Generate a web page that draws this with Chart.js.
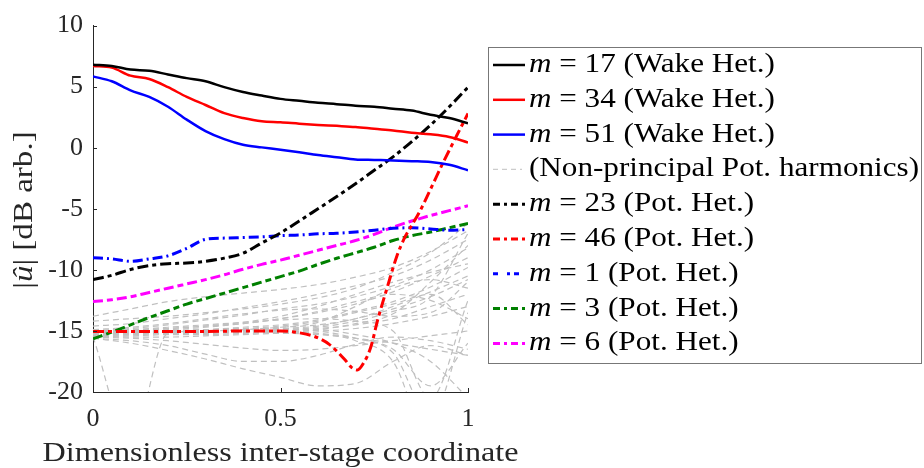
<!DOCTYPE html>
<html>
<head>
<meta charset="utf-8">
<script src="https://cdn.jsdelivr.net/npm/chart.js@4.4.0/dist/chart.umd.min.js"></script>
<style>
  html, body { margin: 0; padding: 0; background: #fff; }
</style>
</head>
<body>
<canvas id="myChart" width="924" height="468"></canvas>
<script>
// x positions (dimensionless inter-stage coordinate)
const xGrid = [0, 0.05, 0.1, 0.15, 0.2, 0.25, 0.3, 0.35, 0.4, 0.45, 0.5,
               0.55, 0.6, 0.65, 0.7, 0.75, 0.8, 0.85, 0.9, 0.95, 1];
const xGray = [0, 0.1, 0.2, 0.3, 0.4, 0.5, 0.6, 0.7, 0.8, 0.9, 1];
const x46 = [0, 0.1, 0.2, 0.3, 0.4, 0.5, 0.55, 0.59, 0.63, 0.67, 0.69, 0.705,
             0.72, 0.74, 0.76, 0.785, 0.81, 0.832, 0.845, 0.87, 0.9, 0.93, 0.97, 1];

// wake heterogeneity harmonics
const m17 = [6.8, 6.7, 6.4, 6.3, 6.0, 5.7, 5.44, 4.96, 4.56, 4.27, 4.0,
             3.84, 3.68, 3.57, 3.44, 3.36, 3.2, 3.04, 2.7, 2.43, 2.0];
const m34 = [6.7, 6.56, 5.9, 5.63, 4.96, 4.16, 3.5, 2.83, 2.43, 2.16, 2.08,
             1.97, 1.87, 1.79, 1.7, 1.55, 1.41, 1.23, 1.1, 0.88, 0.43];
const m51 = [5.84, 5.44, 4.7, 4.16, 3.36, 2.3, 1.36, 0.7, 0.24, 0.03, -0.16,
             -0.37, -0.6, -0.78, -0.96, -1.0, -1.04, -1.1, -1.17, -1.4, -1.84];

// potential heterogeneity harmonics
const m23 = [-10.8, -10.45, -9.97, -9.65, -9.5, -9.44, -9.3, -9.04, -8.64, -7.8, -6.98,
             -6.0, -5.0, -4.0, -2.95, -1.85, -0.75, 0.5, 1.85, 3.35, 4.95];
const m46 = [-15.05, -15.05, -15.05, -15.05, -15.0, -15.0, -15.15, -15.45, -16.1, -17.3, -18.0, -18.2,
             -17.7, -16.4, -14.0, -11.4, -8.9, -7.3, -6.6, -5.3, -3.4, -1.45, 1.0, 2.8];
const m1 = [-9.0, -9.1, -9.3, -9.1, -8.85, -8.24, -7.5, -7.4, -7.35, -7.3, -7.2,
            -7.15, -7.05, -7.0, -6.9, -6.75, -6.6, -6.55, -6.65, -6.75, -6.7];
const m3 = [-15.65, -15.1, -14.5, -13.9, -13.35, -12.8, -12.35, -11.9, -11.45, -11.0, -10.55,
            -10.1, -9.55, -9.05, -8.6, -8.15, -7.6, -7.2, -6.9, -6.55, -6.2];
const m6 = [-12.6, -12.45, -12.2, -11.85, -11.5, -11.15, -10.8, -10.4, -9.95, -9.55, -9.2,
            -8.8, -8.4, -8.0, -7.6, -7.1, -6.5, -6.0, -5.55, -5.15, -4.75];

// non-principal potential harmonics (on xGray)
const grayLines = [
  [-13.8, -13.2, -12.6, -12.2, -11.9, -11.6, -11.2, -10.6, -9.8, -8.5, -6.8],
  [-14.6, -14.4, -14.0, -13.6, -13.1, -12.6, -12.0, -11.3, -10.5, -9.2, -7.5],
  [-15.0, -14.8, -14.5, -14.1, -13.7, -13.2, -12.8, -12.2, -11.3, -10.0, -8.2],
  [-15.1, -15.0, -14.8, -14.6, -14.4, -14.0, -13.5, -12.8, -11.8, -10.5, -9.0],
  [-15.2, -15.1, -15.0, -14.9, -14.7, -14.5, -14.1, -13.4, -12.6, -11.4, -9.8],
  [-15.2, -15.2, -15.1, -15.0, -14.9, -14.8, -14.6, -14.0, -13.2, -12.2, -10.8],
  [-15.3, -15.2, -15.2, -15.1, -15.0, -14.9, -14.8, -14.5, -14.0, -13.0, -12.0],
  [-15.3, -15.3, -15.2, -15.2, -15.1, -15.0, -15.0, -14.8, -14.4, -13.8, -13.0],
  [-15.4, -15.5, -15.5, -15.4, -15.3, -15.2, -15.3, -15.6, -16.0, -16.5, -17.0],
  [-15.5, -15.6, -15.8, -16.1, -16.4, -16.6, -16.5, -16.2, -15.8, -15.4, -15.0],
  [-15.6, -15.8, -16.2, -16.9, -17.5, -17.5, -17.0, -16.1, -15.5, -15.8, -16.5],
  [-15.6, -16.0, -16.6, -17.3, -18.1, -18.8, -19.5, -19.3, -17.5, -16.2, -17.0],
  [-15.5, -24.0, -15.2, -15.0, -14.9, -14.7, -14.5, -14.0, -13.0, -11.8, -10.5],
  [-15.2, -15.1, -15.0, -14.9, -14.8, -14.8, -15.0, -15.6, -16.8, -22.0, -13.5],
  [-15.3, -15.2, -15.1, -15.0, -15.0, -15.0, -15.2, -15.8, -17.5, -24.0, -24.0],
  [-15.0, -14.9, -14.7, -14.5, -14.3, -14.1, -14.0, -14.2, -15.0, -20.5, -12.5],
  [-14.9, -14.7, -14.4, -14.0, -13.6, -13.3, -13.2, -13.4, -13.8, -13.5, -11.0],
  [-15.1, -15.0, -14.9, -14.7, -14.4, -14.0, -13.4, -12.6, -12.0, -12.5, -14.0],
  [-15.2, -15.1, -15.0, -14.9, -14.8, -14.6, -14.2, -13.5, -12.8, -12.0, -14.5],
  [-15.4, -15.3, -15.2, -15.1, -15.0, -14.9, -14.7, -14.2, -13.4, -12.2, -7.0],
  [-14.2, -14.0, -13.8, -13.5, -13.2, -12.8, -12.3, -11.5, -10.2, -8.6, -6.2],
  [-15.0, -14.9, -14.8, -14.6, -14.3, -13.8, -13.0, -12.0, -11.0, -10.2, -9.5],
  [-15.3, -15.2, -15.1, -15.0, -14.9, -14.7, -14.3, -13.0, -11.5, -10.8, -11.5],
  [-15.1, -15.1, -15.0, -15.0, -14.9, -14.9, -14.9, -15.3, -16.0, -17.5, -20.5],
  [-15.2, -15.2, -15.2, -15.1, -15.1, -15.1, -15.2, -15.6, -16.5, -19.5, -16.0],
  [-15.4, -15.4, -15.3, -15.3, -15.2, -15.1, -14.9, -14.4, -13.6, -11.0, -8.0]
];

const yTicks = [-20, -15, -10, -5, 0, 5, 10];
const xTicks = [0, 0.5, 1];

const xTitle = 'Dimensionless inter-stage coordinate';
const legendLabels = [
  'm = 17 (Wake Het.)', 'm = 34 (Wake Het.)', 'm = 51 (Wake Het.)',
  '(Non-principal Pot. harmonics)',
  'm = 23 (Pot. Het.)', 'm = 46 (Pot. Het.)', 'm = 1 (Pot. Het.)',
  'm = 3 (Pot. Het.)', 'm = 6 (Pot. Het.)'
];

const FONT = '"Liberation Serif", "Times New Roman", serif';
const AXIS = '#262626';
const GRAY = '#c0c0c0';

function pts(xs, ys) {
  return xs.map((x, i) => ({ x: x, y: ys[i] }));
}

function line(label, xs, ys, color, width, dash, order) {
  return {
    label: label,
    data: pts(xs, ys),
    borderColor: color,
    borderWidth: width,
    borderDash: dash,
    order: order,
    fill: false,
    clip: 0
  };
}

const datasets = [
  line(legendLabels[0], xGrid, m17, '#000000', 2.5, [], 1),
  line(legendLabels[1], xGrid, m34, '#ff0000', 2.5, [], 2),
  line(legendLabels[2], xGrid, m51, '#0000ff', 2.5, [], 3),
  line(legendLabels[4], xGrid, m23, '#000000', 3, [11, 4, 4, 4], 4),
  line(legendLabels[5], x46, m46, '#ff0000', 3, [11, 4, 4, 4], 5),
  line(legendLabels[6], xGrid, m1, '#0000ff', 3, [10, 4, 2, 4], 6),
  line(legendLabels[7], xGrid, m3, '#008000', 3, [10, 4, 6, 4], 7),
  line(legendLabels[8], xGrid, m6, '#ff00ff', 3, [10, 4, 6, 4], 8)
];
grayLines.forEach((g, i) => {
  datasets.push(line(i === 0 ? legendLabels[3] : '', xGray, g, GRAY, 1.2, [6, 4], 20));
});

// legend sample style per row (row 3 is the grey group)
const legendStyle = [0, 1, 2, 'gray', 3, 4, 5, 6, 7];

// draw text squeezed/stretched horizontally to a target width
function fitText(ctx, text, x, y, width, align) {
  const w = ctx.measureText(text).width;
  const sx = width / w;
  ctx.save();
  ctx.translate(x, y);
  ctx.scale(sx, 1);
  ctx.textAlign = align;
  ctx.fillText(text, 0, 0);
  ctx.restore();
}

const innerTicks = {
  id: 'innerTicks',
  afterDraw(chart) {
    const ctx = chart.ctx;
    const xs = chart.scales.x, ys = chart.scales.y;
    const a = chart.chartArea;
    ctx.save();
    ctx.strokeStyle = AXIS;
    ctx.lineWidth = 1;
    ctx.beginPath();
    yTicks.forEach(v => {
      const y = Math.round(ys.getPixelForValue(v)) + 0.5;
      ctx.moveTo(a.left, y);
      ctx.lineTo(a.left + 4, y);
    });
    xTicks.forEach(v => {
      const x = Math.round(xs.getPixelForValue(v)) + 0.5;
      ctx.moveTo(x, a.bottom);
      ctx.lineTo(x, a.bottom - 4);
    });
    ctx.stroke();

    // axis titles
    ctx.fillStyle = AXIS;
    ctx.textBaseline = 'middle';
    ctx.font = '28px ' + FONT;
    fitText(ctx, xTitle, (a.left + a.right) / 2, 454, 476, 'center');

    // y title: |u-hat| [dB arb.], rotated
    ctx.save();
    ctx.translate(25, 210);
    ctx.rotate(-Math.PI / 2);
    ctx.scale(1.18, 1);
    const parts = [['|', ''], ['û', 'italic '], ['| [dB arb.]', '']];
    let total = 0;
    parts.forEach(p => { ctx.font = p[1] + '28px ' + FONT; total += ctx.measureText(p[0]).width; });
    let px = -total / 2;
    ctx.textAlign = 'left';
    parts.forEach(p => {
      ctx.font = p[1] + '28px ' + FONT;
      ctx.fillText(p[0], px, 0);
      px += ctx.measureText(p[0]).width;
    });
    ctx.restore();
    ctx.restore();
  }
};

const boxLegend = {
  id: 'boxLegend',
  afterDraw(chart) {
    const ctx = chart.ctx;
    const left = 488, top = 47, w = 433, h = 316;
    ctx.save();
    ctx.fillStyle = '#fff';
    ctx.fillRect(left, top, w, h);
    ctx.strokeStyle = '#777';
    ctx.lineWidth = 1;
    ctx.strokeRect(left + 0.5, top + 0.5, w, h);

    ctx.font = '27px ' + FONT;
    const sx = 390 / ctx.measureText(legendLabels[3]).width;

    legendLabels.forEach((text, i) => {
      const y = 65 + i * 34.8;
      const s = legendStyle[i];
      ctx.save();
      if (s === 'gray') {
        ctx.strokeStyle = '#cccccc';
        ctx.lineWidth = 1.2;
        ctx.setLineDash([5, 4]);
      } else {
        const d = datasets[s];
        ctx.strokeStyle = d.borderColor;
        ctx.lineWidth = d.borderWidth;
        ctx.setLineDash(d.borderDash.length ? [7, 4, 3, 4] : []);
        if (s === 5) ctx.setLineDash([5, 9, 3, 4]);
      }
      ctx.beginPath();
      ctx.moveTo(493, y);
      ctx.lineTo(s === 'gray' ? 522 : 525, y);
      ctx.stroke();
      ctx.restore();

      ctx.save();
      ctx.fillStyle = '#000';
      ctx.textBaseline = 'middle';
      ctx.translate(529, y);
      ctx.scale(sx, 1);
      let x = 0;
      let rest = text;
      if (text.startsWith('m ')) {
        ctx.font = 'italic 27px ' + FONT;
        ctx.fillText('m', x, 0);
        x += ctx.measureText('m').width;
        rest = text.slice(1);
      }
      ctx.font = '27px ' + FONT;
      ctx.fillText(rest, x, 0);
      ctx.restore();
    });
    ctx.restore();
  }
};

const ctx = document.getElementById('myChart');
const myChart = new Chart(ctx, {
  type: 'line',
  data: { datasets: datasets },
  options: {
    responsive: false,
    animation: false,
    devicePixelRatio: 1,
    layout: { padding: { top: 17, right: 456, left: 0, bottom: 0 } },
    elements: {
      point: { radius: 0 },
      line: { cubicInterpolationMode: 'monotone' }
    },
    plugins: {
      legend: { display: false },
      tooltip: { enabled: false }
    },
    scales: {
      x: {
        type: 'linear',
        min: 0,
        max: 1,
        afterFit: s => { s.height = 76; },
        afterBuildTicks: s => { s.ticks = xTicks.map(v => ({ value: v })); },
        ticks: {
          font: { family: FONT, size: 26 },
          color: AXIS,
          padding: 12,
          maxRotation: 0,
          callback: v => String(v)
        },
        grid: { display: false, drawTicks: false },
        border: { display: true, color: AXIS, width: 1 }
      },
      y: {
        type: 'linear',
        min: -20,
        max: 10,
        afterFit: s => { s.width = 93; },
        afterBuildTicks: s => { s.ticks = yTicks.map(v => ({ value: v })); },
        ticks: {
          font: { family: FONT, size: 26 },
          color: AXIS,
          padding: 10,
          callback: v => String(v)
        },
        grid: { display: false, drawTicks: false },
        border: { display: true, color: AXIS, width: 1 }
      }
    }
  },
  plugins: [innerTicks, boxLegend]
});
</script>
</body>
</html>
